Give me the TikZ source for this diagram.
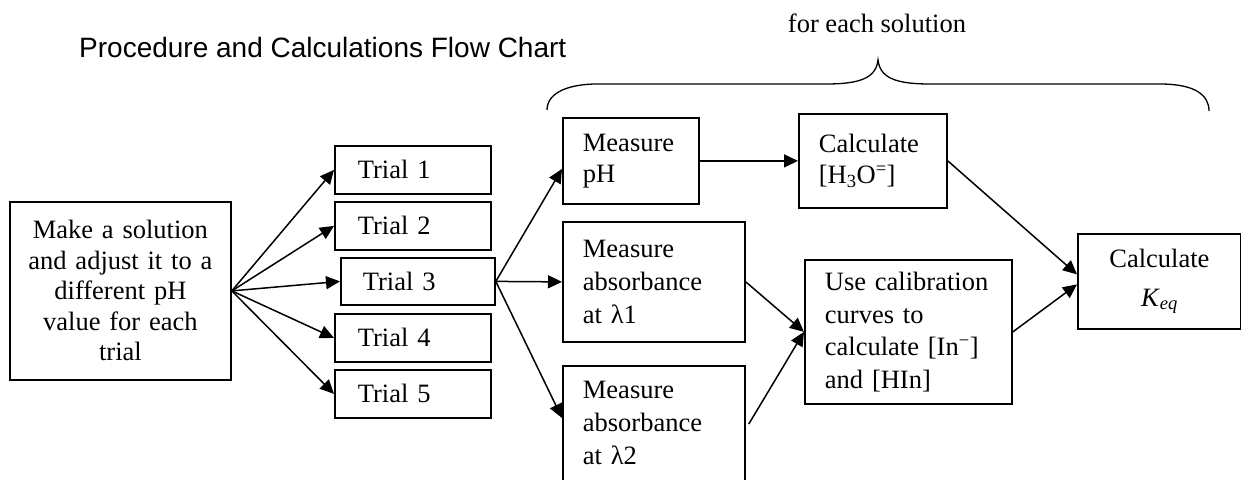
\documentclass[tikz,border=0pt]{standalone}
\usepackage{fontspec}
\setmainfont{Liberation Serif}
\newfontfamily\titlefont{Liberation Sans}
\usetikzlibrary{arrows.meta}
\begin{document}
\begin{tikzpicture}[x=1pt,y=-1pt,
  every node/.style={font=\fontsize{26.5}{30.5}\selectfont},
  box/.style={draw,line width=1.8pt,anchor=north west,inner ysep=0pt,align=left},
  arr/.style={line width=1.5pt,-{Triangle[length=14pt,width=13pt]}},
  bracepath/.style={line width=1.3pt},
  label/.style={inner sep=0pt}]
\fill[white] (0,0) rectangle (1241,479);
\useasboundingbox (0,0) rectangle (1241,479);
\clip (0,0) rectangle (1241,479);

\node[label,anchor=base west,font=\titlefont\fontsize{28}{32}\selectfont] (title) at (79,57) {Procedure and Calculations Flow Chart};
\node[label,anchor=base] (fes) at (877,32) {for each solution};

\node[box,text width=213pt,inner xsep=4pt,minimum height=178pt,align=center] (make) at (9,201)
  {Make a solution\\and adjust it to a\\different pH\\value for each\\trial};

\node[box,text width=110pt,inner xsep=23pt,minimum height=48pt] (t1) at (334,145) {Trial 1};
\node[box,text width=110pt,inner xsep=23pt,minimum height=48pt] (t2) at (334,201) {Trial 2};
\node[box,text width=110pt,inner xsep=22pt,minimum height=47pt] (t3) at (340,257) {Trial 3};
\node[box,text width=110pt,inner xsep=23pt,minimum height=48pt] (t4) at (334,313) {Trial 4};
\node[box,text width=110pt,inner xsep=23pt,minimum height=48pt] (t5) at (334,369) {Trial 5};

\node[box,text width=96pt,inner xsep=20pt,minimum height=86pt] (mph) at (562,117) {Measure\\pH};
\node[box,text width=108pt,inner xsep=20pt,minimum height=94pt] (calc) at (798,113)
  {Calculate\\ {[}H\textsubscript{3}O\textsuperscript{=}{]}};
\node[box,text width=142pt,inner xsep=20pt,minimum height=120pt,font=\fontsize{26.5}{33}\selectfont] (ml1) at (562,221)
  {Measure\\absorbance\\at λ1};
\node[box,text width=142pt,inner xsep=20pt,inner ysep=15.5pt,font=\fontsize{26.5}{33}\selectfont] (ml2) at (562,365)
  {Measure\\absorbance\\at λ2\rule[-30pt]{0pt}{30pt}};
\node[box,text width=167pt,inner xsep=20pt,minimum height=144pt,font=\fontsize{26.5}{32.5}\selectfont] (use) at (804,259)
  {Use calibration\\curves to\\calculate {[}In\textsuperscript{−}{]}\\and {[}HIn{]}};
\node[box,text width=155pt,inner xsep=4pt,minimum height=95pt,align=center] (keq) at (1077,233)
  {Calculate\\[8pt]\textit{K}\textsubscript{\textit{eq}}};

\draw[arr] (make.east) -- (t1.west);
\draw[arr] (make.east) -- (t2.west);
\draw[arr] (make.east) -- (t3.west);
\draw[arr] (make.east) -- (t4.west);
\draw[arr] (make.east) -- (t5.west);

\draw[arr] (t3.east) -- ([yshift=-8pt]mph.west);
\draw[arr] (t3.east) -- (ml1.west);
\draw[arr] (t3.east) -- ([yshift=-53pt]ml2.north west);

\draw[arr] (mph.east) -- (calc.west);
\draw[arr] (ml1.east) -- (use.west);
\draw[arr] ([xshift=3pt,yshift=-59pt]ml2.north east) -- (use.west);
\draw[arr] (calc.east) -- ([yshift=7pt]keq.west);
\draw[arr] (use.east) -- ([yshift=-3pt]keq.west);

\draw[bracepath] (547,110) .. controls (547,92) and (570,84) .. (597,84) -- (826,84)
  .. controls (860,84) and (876,78) .. (878,60)
  .. controls (880,78) and (896,84) .. (930,84) -- (1160,84)
  .. controls (1195,84) and (1209,95) .. (1209,111);
\end{tikzpicture}
\end{document}
